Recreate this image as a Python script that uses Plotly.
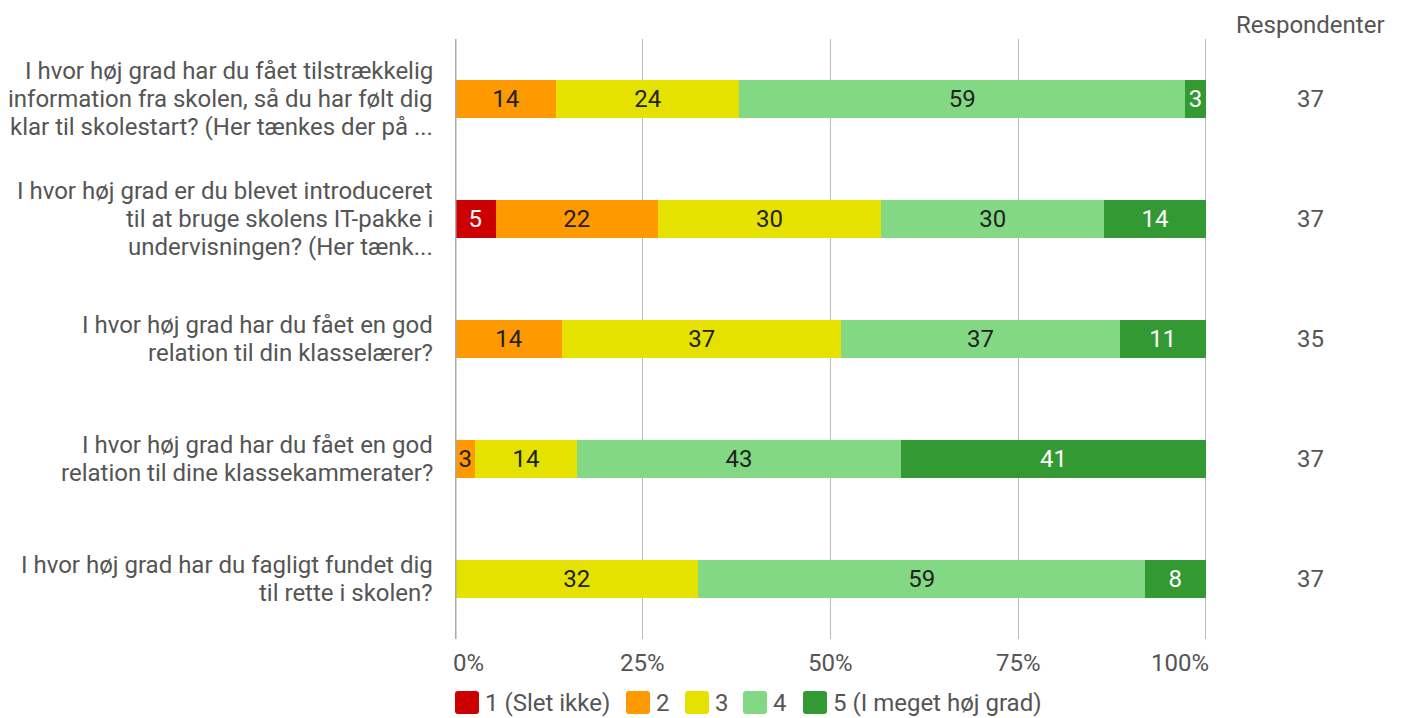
import plotly.graph_objects as go

questions = [
    "I hvor høj grad har du fået tilstrækkelig<br>information fra skolen, så du har følt dig<br>klar til skolestart? (Her tænkes der på ...",
    "I hvor høj grad er du blevet introduceret<br>til at bruge skolens IT-pakke i<br>undervisningen? (Her tænk...",
    "I hvor høj grad har du fået en god<br>relation til din klasselærer?",
    "I hvor høj grad har du fået en god<br>relation til dine klassekammerater?",
    "I hvor høj grad har du fagligt fundet dig<br>til rette i skolen?",
]
respondents = [37, 37, 35, 37, 37]

series_names = ["1 (Slet ikke)", "2", "3", "4", "5 (I meget høj grad)"]
counts_1 = [0, 2, 0, 0, 0]
counts_2 = [5, 8, 5, 1, 0]
counts_3 = [9, 11, 13, 5, 12]
counts_4 = [22, 11, 13, 16, 22]
counts_5 = [1, 5, 4, 15, 3]
series_counts = [counts_1, counts_2, counts_3, counts_4, counts_5]
tick_vals = [0, 25, 50, 75, 100]
tick_text = ["0%", "25%", "50%", "75%", "100%"]

colors = ["#CC0000", "#FF9900", "#E6E200", "#83D983", "#339933"]
text_colors = ["#FFFFFF", "#222222", "#222222", "#222222", "#FFFFFF"]
FS = 24
GREY = "#555555"

# figure geometry (page body has an 8px margin)
W, H = 1393, 710
ML, MT = 447, 31
PW, PH = 753, 600
MR = W - ML - PW
MB = H - MT - PH


def px_x(fx):
    return (fx - ML) / PW


def px_y(fy):
    return (MT + PH - fy) / PH


fig = go.Figure()
for name, cnts, col, tcol in zip(series_names, series_counts, colors, text_colors):
    pct = [c / n * 100 for c, n in zip(cnts, respondents)]
    labels = [f"{p:.0f}" if p > 0 else "" for p in pct]
    fig.add_trace(go.Bar(
        y=questions, x=pct, name=name, orientation="h",
        marker=dict(color=col, line=dict(width=0)),
        text=labels, textposition="inside", insidetextanchor="middle",
        textangle=0, constraintext="none",
        textfont=dict(color=tcol, size=FS, family="Roboto"),
        hoverinfo="skip", showlegend=False,
    ))

# category labels, one annotation per line for tighter line spacing
LINE_H = 28
for q in questions:
    lines = q.split("<br>")
    k = len(lines)
    for i, ln in enumerate(lines):
        fig.add_annotation(x=0, xref="paper", y=q, yref="y", text=ln,
                           showarrow=False, xanchor="right", yanchor="middle",
                           xshift=-20, yshift=((k - 1) / 2 - i) * LINE_H,
                           font=dict(size=FS, color=GREY, family="Roboto"))

# x tick labels (end labels kept inside the plot width)
for tv, tt in zip(tick_vals, tick_text):
    if tv == tick_vals[0]:
        anchor, shift = "left", -4
    elif tv == tick_vals[-1]:
        anchor, shift = "right", 5
    else:
        anchor, shift = "center", 0
    fig.add_annotation(x=tv, xref="x", y=px_y(655), yref="paper", text=tt,
                       showarrow=False, xanchor=anchor, yanchor="middle", xshift=shift,
                       font=dict(size=FS, color=GREY, family="Roboto"))

# respondents column
for q, n in zip(questions, respondents):
    fig.add_annotation(x=px_x(1302), xref="paper", y=q, yref="y", text=str(n),
                       showarrow=False, xanchor="center",
                       font=dict(size=FS, color=GREY, family="Roboto"))
fig.add_annotation(x=px_x(1302), xref="paper", y=px_y(17), yref="paper", text="Respondenter",
                   showarrow=False, xanchor="center", yanchor="middle",
                   font=dict(size=FS, color=GREY, family="Roboto"))

# custom legend with rounded swatches
swatch_left = [447, 618, 677, 735, 795]
sw, rad = 24, 3
sy0, sy1 = 683, 706
X = px_x
Y = px_y
for name, col, x0 in zip(series_names, colors, swatch_left):
    x1 = x0 + sw
    path = (f"M {X(x0 + rad)},{Y(sy0)} L {X(x1 - rad)},{Y(sy0)} "
            f"Q {X(x1)},{Y(sy0)} {X(x1)},{Y(sy0 + rad)} "
            f"L {X(x1)},{Y(sy1 - rad)} Q {X(x1)},{Y(sy1)} {X(x1 - rad)},{Y(sy1)} "
            f"L {X(x0 + rad)},{Y(sy1)} Q {X(x0)},{Y(sy1)} {X(x0)},{Y(sy1 - rad)} "
            f"L {X(x0)},{Y(sy0 + rad)} Q {X(x0)},{Y(sy0)} {X(x0 + rad)},{Y(sy0)} Z")
    fig.add_shape(type="path", xref="paper", yref="paper", path=path,
                  fillcolor=col, line=dict(width=0))
    fig.add_annotation(x=px_x(x1 + 4), xref="paper", y=px_y((sy0 + sy1) / 2), yref="paper",
                       text=name, showarrow=False, xanchor="left", yanchor="middle",
                       font=dict(size=FS, color=GREY, family="Roboto"))

fig.update_layout(
    barmode="stack",
    bargap=0.683,
    width=W, height=H,
    margin=dict(l=ML, r=MR, t=MT, b=MB, autoexpand=False),
    plot_bgcolor="white", paper_bgcolor="white",
    font=dict(family="Roboto", size=FS, color=GREY),
    uniformtext=dict(minsize=FS, mode="show"),
    showlegend=False,
)
fig.update_xaxes(range=[0, 100.3], tickvals=tick_vals, showticklabels=False,
                 showgrid=True, gridcolor="#BBBBBB", gridwidth=1,
                 zeroline=False, showline=False, ticks="", automargin=False)
fig.update_yaxes(autorange="reversed", showgrid=False, zeroline=False,
                 showticklabels=False, ticks="", automargin=False)
fig.add_shape(type="line", xref="x", yref="paper", x0=0, x1=0, y0=0, y1=1,
              line=dict(color="#AAAAAA", width=3), layer="above")

fig.write_html("out.html")
